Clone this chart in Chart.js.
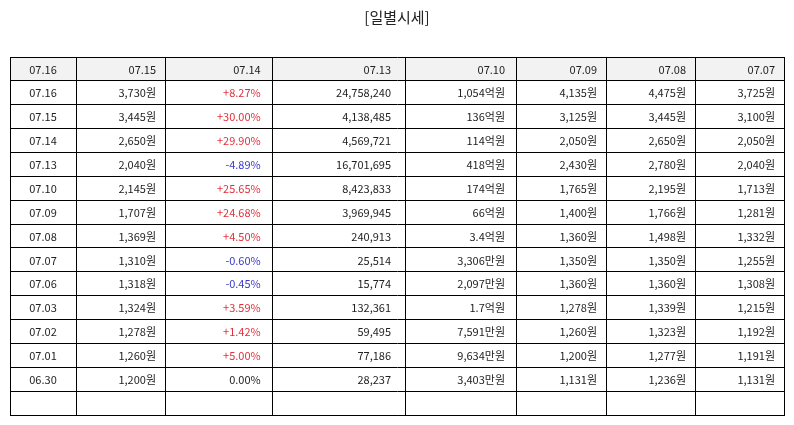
<!DOCTYPE html>
<html>
<head>
<meta charset="utf-8">
<script src="https://cdn.jsdelivr.net/npm/chart.js@4/dist/chart.umd.min.js"></script>
<style>
  html, body { margin: 0; padding: 0; background: #fff; }
  #wrap { width: 794px; height: 425px; position: relative; }
</style>
</head>
<body>
<div id="wrap"><canvas id="priceTable"></canvas></div>
<script>
// table data
const headers = ['07.16', '07.15', '07.14', '07.13', '07.10', '07.09', '07.08', '07.07'];
const dates   = ['07.16', '07.15', '07.14', '07.13', '07.10', '07.09', '07.08', '07.07', '07.06', '07.03', '07.02', '07.01', '06.30'];
const closes  = ['3,730원', '3,445원', '2,650원', '2,040원', '2,145원', '1,707원', '1,369원', '1,310원', '1,318원', '1,324원', '1,278원', '1,260원', '1,200원'];
const changes = ['+8.27%', '+30.00%', '+29.90%', '-4.89%', '+25.65%', '+24.68%', '+4.50%', '-0.60%', '-0.45%', '+3.59%', '+1.42%', '+5.00%', '0.00%'];
const volumes = ['24,758,240', '4,138,485', '4,569,721', '16,701,695', '8,423,833', '3,969,945', '240,913', '25,514', '15,774', '132,361', '59,495', '77,186', '28,237'];
const amounts = ['1,054억원', '136억원', '114억원', '418억원', '174억원', '66억원', '3.4억원', '3,306만원', '2,097만원', '1.7억원', '7,591만원', '9,634만원', '3,403만원'];
const opens   = ['4,135원', '3,125원', '2,050원', '2,430원', '1,765원', '1,400원', '1,360원', '1,350원', '1,360원', '1,278원', '1,260원', '1,200원', '1,131원'];
const highs   = ['4,475원', '3,445원', '2,650원', '2,780원', '2,195원', '1,766원', '1,498원', '1,350원', '1,360원', '1,339원', '1,323원', '1,277원', '1,236원'];
const lows    = ['3,725원', '3,100원', '2,050원', '2,040원', '1,713원', '1,281원', '1,332원', '1,255원', '1,308원', '1,215원', '1,192원', '1,191원', '1,131원'];

// layout: column widths and right padding of the text in each column
const colWidths = [66, 89, 107.7, 132.3, 111, 90, 89, 89];
const colPad = [0, 9, 12, 14, 11, 9, 9, 9];

const columns = [dates, closes, changes, volumes, amounts, opens, highs, lows];
const rowLabels = ['header'].concat(dates, ['']);

const colEdges = [0];
colWidths.forEach(w => colEdges.push(colEdges[colEdges.length - 1] + w));
const tableWidth = colEdges[colEdges.length - 1];

const FONT = '"Noto Sans CJK KR", "Noto Sans", sans-serif';

function changeColor(txt) {
    if (txt.startsWith('+')) return '#e0303c';
    if (txt.startsWith('-')) return '#3a3ac8';
    return '#222';
}

// writes the cell texts at the scale positions
const cellText = {
    id: 'cellText',
    afterDraw(chart) {
        const ctx = chart.ctx;
        const xs = chart.scales.x;
        const ys = chart.scales.y;
        ctx.save();
        ctx.font = '11px ' + FONT;
        ctx.textBaseline = 'middle';
        for (let r = 0; r < rowLabels.length; r++) {
            const y = ys.getPixelForValue(r);
            for (let c = 0; c < columns.length; c++) {
                let txt;
                if (r === 0) txt = headers[c];
                else txt = columns[c][r - 1];
                if (txt === undefined) continue;
                const left = xs.getPixelForValue(colEdges[c]);
                const right = xs.getPixelForValue(colEdges[c + 1]);
                ctx.fillStyle = (r > 0 && c === 2) ? changeColor(txt) : '#222';
                if (c === 0) {
                    ctx.textAlign = 'center';
                    ctx.fillText(txt, (left + right) / 2, y + 0.5);
                } else {
                    ctx.textAlign = 'right';
                    ctx.fillText(txt, right - colPad[c], y + 0.5);
                }
            }
        }
        ctx.restore();
    }
};

new Chart(document.getElementById('priceTable'), {
    type: 'bar',
    data: {
        labels: rowLabels,
        datasets: [{
            // grey header band
            data: rowLabels.map((l, i) => i === 0 ? [0, tableWidth] : null),
            backgroundColor: '#f2f2f2',
            borderWidth: 0,
            barPercentage: 1,
            categoryPercentage: 1
        }]
    },
    options: {
        indexAxis: 'y',
        responsive: true,
        maintainAspectRatio: false,
        animation: false,
        layout: { padding: { left: 10, right: 10, top: 0, bottom: 10 } },
        scales: {
            x: {
                type: 'linear',
                min: 0,
                max: tableWidth,
                afterBuildTicks: axis => { axis.ticks = colEdges.map(v => ({ value: v })); },
                ticks: { display: false },
                grid: { color: '#000', lineWidth: 1, drawTicks: false, z: 1 },
                border: { display: true, color: '#000', width: 1, z: 1 }
            },
            y: {
                ticks: { display: false },
                grid: { color: '#000', lineWidth: 1, drawTicks: false, offset: true, z: 1 },
                border: { display: true, color: '#000', width: 1, z: 1 }
            }
        },
        plugins: {
            legend: { display: false },
            tooltip: { enabled: false },
            title: {
                display: true,
                text: '[일별시세]',
                color: '#222',
                font: { family: FONT, size: 15, weight: 'normal' },
                padding: { top: 8, bottom: 31 }
            }
        }
    },
    plugins: [cellText]
});
</script>
</body>
</html>
